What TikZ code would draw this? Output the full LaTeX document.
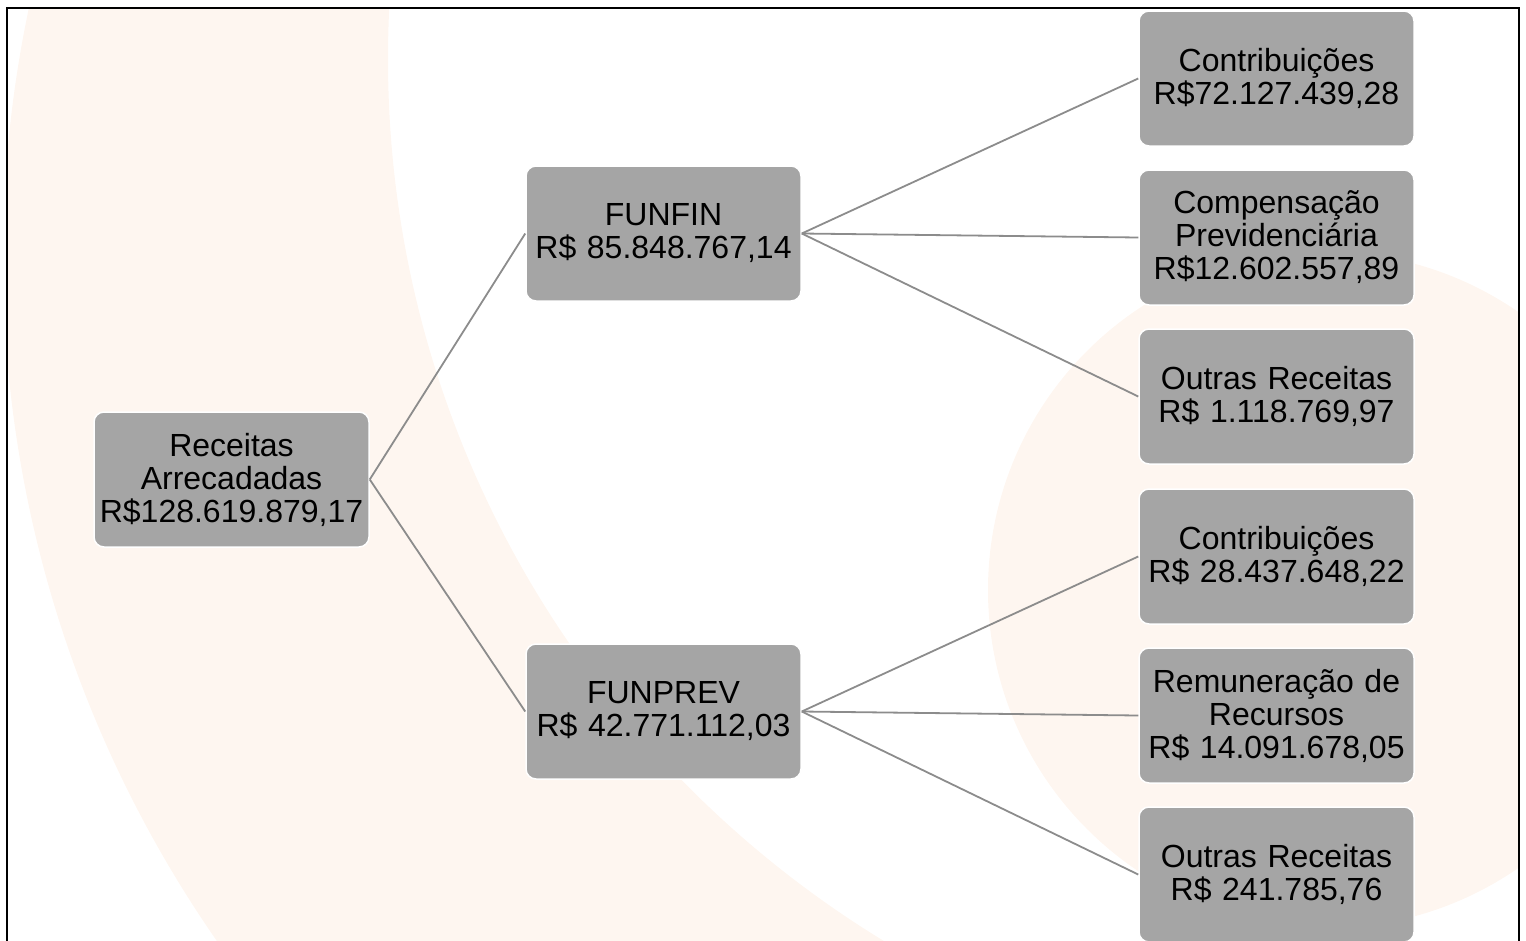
\documentclass[tikz,border=0pt]{standalone}
\usepackage{fontspec}
\setmainfont{Liberation Sans}
\definecolor{peach}{RGB}{254,246,240}
\definecolor{boxgray}{RGB}{165,165,165}
\definecolor{linegray}{RGB}{140,140,140}
\begin{document}
\begin{tikzpicture}[x=1pt,y=-1pt,
  box/.style={draw=white, line width=1.5pt, fill=boxgray, rounded corners=10pt,
    minimum width=275pt, minimum height=135pt, align=center, inner sep=0pt,
    text width=272pt, font=\fontsize{32}{33}\selectfont},
  link/.style={draw=linegray, line width=1.8pt}]
\useasboundingbox (0,0) rectangle (1526,940);
\begin{scope}
  \clip (7,8) rectangle (1519,945);
  \fill[peach, even odd rule] (1203,257) circle[radius=1200] (1420,59) circle[radius=1032];
  \fill[peach] (1326,590) circle[radius=338];
\end{scope}
\draw[line width=2.8pt, line join=miter] (7,950) -- (7,8) -- (1519,8) -- (1519,950);

\node[box] (root) at (231.5,479.5) {Receitas\\Arrecadadas\\R\$128.619.879,17};
\node[box] (funfin) at (663.5,233.5) {FUNFIN\\R\$ 85.848.767,14};
\node[box] (funprev) at (663.5,711.5) {FUNPREV\\R\$ 42.771.112,03};
\node[box] (c1) at (1276.5,78.5) {Contribuições\\R\$72.127.439,28};
\node[box] (c2) at (1276.5,237.5) {Compensação\\Previdenciária\\R\$12.602.557,89};
\node[box] (c3) at (1276.5,396.5) {Outras Receitas\\R\$ 1.118.769,97};
\node[box] (c4) at (1276.5,556.5) {Contribuições\\R\$ 28.437.648,22};
\node[box] (c5) at (1276.5,715.5) {Remuneração de\\Recursos\\R\$ 14.091.678,05};
\node[box] (c6) at (1276.5,874.5) {Outras Receitas\\R\$ 241.785,76};

\draw[link] (root.east) -- (funfin.west);
\draw[link] (root.east) -- (funprev.west);
\draw[link] (funfin.east) -- (c1.west);
\draw[link] (funfin.east) -- (c2.west);
\draw[link] (funfin.east) -- (c3.west);
\draw[link] (funprev.east) -- (c4.west);
\draw[link] (funprev.east) -- (c5.west);
\draw[link] (funprev.east) -- (c6.west);
\end{tikzpicture}
\end{document}
